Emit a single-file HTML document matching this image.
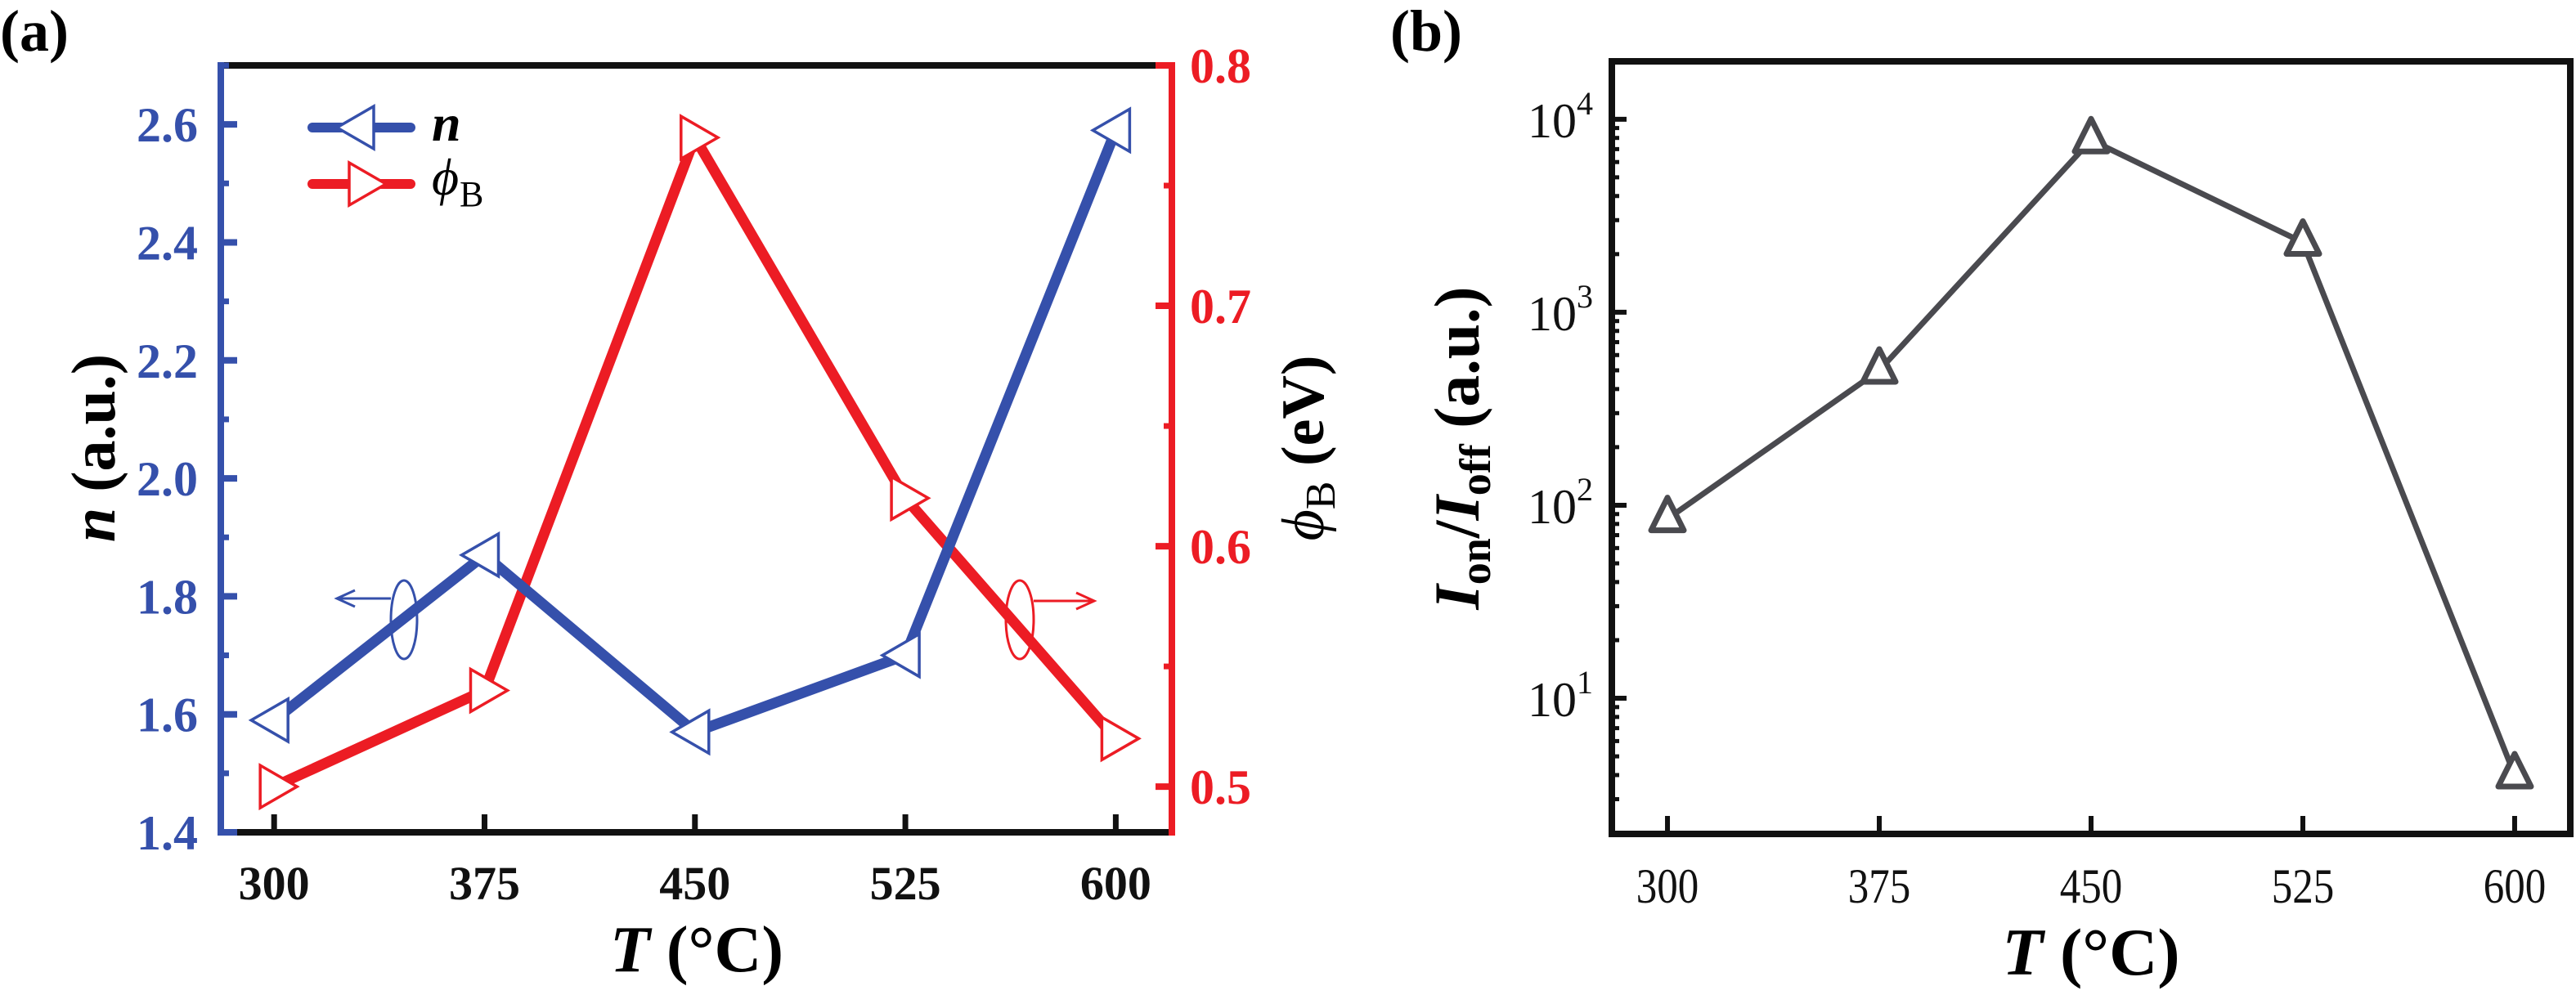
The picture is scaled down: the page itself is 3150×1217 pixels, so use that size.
<!DOCTYPE html>
<html><head><meta charset="utf-8"><style>
html,body{margin:0;padding:0;background:#fff;}
svg, svg text, svg tspan{font-family:"Liberation Serif","DejaVu Serif",serif !important;}
</style></head><body>
<svg id="fig" width="3150" height="1212" viewBox="0 0 3150 1212" xmlns="http://www.w3.org/2000/svg" font-family="'Liberation Serif', 'DejaVu Serif', serif">
<g id="pa"></g>
<g id="pb"></g>
</svg>
<script>
// ---- data ----
const temps = [300, 375, 450, 525, 600];
const nValues = [1.59, 1.87, 1.57, 1.70, 2.59];
const phiValues = [0.50, 0.54, 0.77, 0.62, 0.52];
const ratioValues = [85, 500, 7800, 2300, 4];
const xTickLabels = ["300", "375", "450", "525", "600"];
const nTickLabels = ["1.4", "1.6", "1.8", "2.0", "2.2", "2.4", "2.6"];
const phiTickLabels = ["0.5", "0.6", "0.7", "0.8"];
const logTickExps = [1, 2, 3, 4];

const NS = "http://www.w3.org/2000/svg";
const FF = "'Liberation Serif', 'DejaVu Serif', serif";
function mk(parent, tag, attrs, text) {
  const e = document.createElementNS(NS, tag);
  for (const k in attrs) e.setAttribute(k, attrs[k]);
  if (tag === "text") e.setAttribute("font-family", FF);
  if (text !== undefined) e.textContent = text;
  parent.appendChild(e);
  return e;
}
const BLUE = "#3550ab", RED = "#ec1c24", GRAY = "#4a4a4f";

// ---- panel a ----
const pa = document.getElementById("pa");
const A = {l: 270, r: 1433, t: 80, b: 1018};
const xa = v => A.l + (v - 281) / (620 - 281) * (A.r - A.l);
const ya = v => A.b - (v - 1.4) / (2.7 - 1.4) * (A.b - A.t);
const ypa = v => A.b - (v - 0.481) / (0.8 - 0.481) * (A.b - A.t);

let e;
e = mk(pa, "text", {x: 0, y: 62, "font-size": 72, "font-weight": "bold"}, "(a)");
 

e = mk(pa, "line", {x1: A.l, y1: A.t, x2: A.r, y2: A.t, stroke: "#111", "stroke-width": 8});
 
e = mk(pa, "line", {x1: A.l, y1: A.b, x2: A.r, y2: A.b, stroke: "#111", "stroke-width": 8});
 
e = mk(pa, "line", {x1: A.l, y1: A.t - 4, x2: A.l, y2: A.b + 4, stroke: BLUE, "stroke-width": 8});
 
e = mk(pa, "line", {x1: A.r, y1: A.t - 4, x2: A.r, y2: A.b + 4, stroke: RED, "stroke-width": 8});
 

temps.forEach((t, i) => {
  const x = xa(t);
  e = mk(pa, "line", {x1: x, y1: A.b, x2: x, y2: A.b - 22, stroke: "#111", "stroke-width": 7});
   
  e = mk(pa, "text", {x: x, y: A.b + 82, "font-size": 58, "font-weight": "bold", "text-anchor": "middle", fill: "#111"}, xTickLabels[i]);
   
});
nTickLabels.forEach(s => {
  const v = parseFloat(s), y = ya(v);
  e = mk(pa, "line", {x1: A.l, y1: y, x2: A.l + 20, y2: y, stroke: BLUE, "stroke-width": 8});
   
  e = mk(pa, "line", {x1: A.l, y1: ya(v + 0.1), x2: A.l + 10, y2: ya(v + 0.1), stroke: BLUE, "stroke-width": 7});
   
  e = mk(pa, "text", {x: A.l - 28, y: y + 21, "font-size": 60, "font-weight": "bold", "text-anchor": "end", fill: BLUE}, s);
   
});
phiTickLabels.forEach(s => {
  const v = parseFloat(s), y = ypa(v);
  e = mk(pa, "line", {x1: A.r, y1: y, x2: A.r - 20, y2: y, stroke: RED, "stroke-width": 8});
   
  if (v < 0.8) {
    e = mk(pa, "line", {x1: A.r, y1: ypa(v + 0.05), x2: A.r - 10, y2: ypa(v + 0.05), stroke: RED, "stroke-width": 7});
     
  }
  e = mk(pa, "text", {x: A.r + 22, y: y + 21, "font-size": 60, "font-weight": "bold", fill: RED}, s);
   
});

function triL(g, x, y, col, name) {
  const p = `${x - 28},${y} ${x + 17},${y - 26} ${x + 17},${y + 26}`;
  const el = mk(g, "polygon", {points: p, fill: "#fff", stroke: col, "stroke-width": 3.5});
   
}
function triR(g, x, y, col, name) {
  const p = `${x + 28},${y} ${x - 17},${y - 26} ${x - 17},${y + 26}`;
  const el = mk(g, "polygon", {points: p, fill: "#fff", stroke: col, "stroke-width": 3.5});
   
}
e = mk(pa, "polyline", {points: temps.map((t, i) => xa(t) + "," + ypa(phiValues[i])).join(" "), fill: "none", stroke: RED, "stroke-width": 13, "stroke-linejoin": "round"});
 
e = mk(pa, "polyline", {points: temps.map((t, i) => xa(t) + "," + ya(nValues[i])).join(" "), fill: "none", stroke: BLUE, "stroke-width": 13, "stroke-linejoin": "round"});
 
temps.forEach((t, i) => triR(pa, xa(t), ypa(phiValues[i]), RED, 'phi-marker'));
temps.forEach((t, i) => triL(pa, xa(t), ya(nValues[i]), BLUE, 'n-marker'));

// legend
e = mk(pa, "line", {x1: 382, y1: 156, x2: 502, y2: 156, stroke: BLUE, "stroke-width": 12, "stroke-linecap": "round"});
 
triL(pa, 440, 156, BLUE, 'legend-n-marker');
e = mk(pa, "text", {x: 528, y: 172, "font-size": 64, "font-weight": "bold", "font-style": "italic"}, "n");
 
e = mk(pa, "line", {x1: 382, y1: 225, x2: 502, y2: 225, stroke: RED, "stroke-width": 12, "stroke-linecap": "round"});
 
triR(pa, 444, 225, RED, 'legend-phi-marker');
e = mk(pa, "text", {x: 528, y: 238, "font-size": 64, "font-style": "italic"}, "ϕ");
 
e = mk(pa, "text", {x: 562, y: 252, "font-size": 44}, "B");
 

// annotations
e = mk(pa, "ellipse", {cx: 494, cy: 758, rx: 16, ry: 48, fill: "none", stroke: BLUE, "stroke-width": 3});
 
e = mk(pa, "path", {d: "M478,732 L412,732 M434,722 L412,732 L434,742", fill: "none", stroke: BLUE, "stroke-width": 3});
 
e = mk(pa, "ellipse", {cx: 1247, cy: 758, rx: 17, ry: 48, fill: "none", stroke: RED, "stroke-width": 3});
 
e = mk(pa, "path", {d: "M1264,735 L1338,735 M1316,725 L1338,735 L1316,745", fill: "none", stroke: RED, "stroke-width": 3});
 

// axis titles
e = mk(pa, "text", {x: 0, y: 0, "font-size": 76, "font-weight": "bold", "text-anchor": "middle", transform: "translate(140,548) rotate(-90)"});
e.innerHTML = '<tspan font-style="italic">n</tspan> (a.u.)';
 
e = mk(pa, "text", {x: 0, y: 0, "font-size": 74, "font-weight": "bold", "text-anchor": "middle", transform: "translate(1618,548) rotate(-90)"});
e.innerHTML = '<tspan font-style="italic" font-weight="normal">ϕ</tspan><tspan font-size="52" font-weight="normal" dy="14">B</tspan><tspan dy="-14"> (eV)</tspan>';
 
e = mk(pa, "text", {x: 852, y: 1188, "font-size": 80, "font-weight": "bold", "text-anchor": "middle"});
e.innerHTML = '<tspan font-style="italic">T</tspan> (°C)';
 

// ---- panel b ----
const pb = document.getElementById("pb");
const B = {l: 1971, r: 3143, t: 75, b: 1020};
const xb = v => B.l + (v - 280.3) / (619.7 - 280.3) * (B.r - B.l);
const lmin = 0.297, lmax = 4.30;
const yb = v => B.b - (Math.log10(v) - lmin) / (lmax - lmin) * (B.b - B.t);

e = mk(pb, "text", {x: 1700, y: 62, "font-size": 72, "font-weight": "bold"}, "(b)");
 
e = mk(pb, "rect", {x: B.l, y: B.t, width: B.r - B.l, height: B.b - B.t, fill: "none", stroke: "#111", "stroke-width": 8});
 
temps.forEach((t, i) => {
  const x = xb(t);
  e = mk(pb, "line", {x1: x, y1: B.b, x2: x, y2: B.b - 22, stroke: "#111", "stroke-width": 6});
   
  e = mk(pb, "text", {x: x, y: B.b + 84, "font-size": 60, "text-anchor": "middle", fill: "#111", transform: `translate(${x},0) scale(0.85,1) translate(${-x},0)`}, xTickLabels[i]);
   
});
for (let d = 0; d <= 4; d++) {
  for (let m = 1; m <= 9; m++) {
    const v = m * Math.pow(10, d);
    const lv = Math.log10(v);
    if (lv < lmin || lv > lmax) continue;
    const y = yb(v);
    e = mk(pb, "line", {x1: B.l, y1: y, x2: B.l + (m === 1 ? 18 : 9), y2: y, stroke: "#111", "stroke-width": m === 1 ? 6 : 5});
     
  }
}
logTickExps.forEach(p => {
  const y = yb(Math.pow(10, p));
  e = mk(pb, "text", {x: 1948, y: y + 22, "font-size": 60, "text-anchor": "end", fill: "#111"});
  e.innerHTML = '10<tspan font-size="40" dy="-28">' + p + '</tspan>';
   
});
e = mk(pb, "polyline", {points: temps.map((t, i) => xb(t) + "," + yb(ratioValues[i])).join(" "), fill: "none", stroke: GRAY, "stroke-width": 7, "stroke-linejoin": "round"});
 
temps.forEach((t, i) => {
  const x = xb(t), y = yb(ratioValues[i]);
  e = mk(pb, "polygon", {points: `${x},${y - 26} ${x - 20},${y + 14} ${x + 20},${y + 14}`, fill: "#fff", stroke: GRAY, "stroke-width": 7, "stroke-linejoin": "round"});
   
});
e = mk(pb, "text", {x: 0, y: 0, "font-size": 78, "font-weight": "bold", "text-anchor": "middle", transform: "translate(1808,548) rotate(-90)"});
e.innerHTML = '<tspan font-style="italic">I</tspan><tspan font-size="54" dy="14">on</tspan><tspan dy="-14">/</tspan><tspan font-style="italic">I</tspan><tspan font-size="54" dy="14">off</tspan><tspan dy="-14"> (a.u.)</tspan>';
 
e = mk(pb, "text", {x: 2557, y: 1192, "font-size": 82, "font-weight": "bold", "text-anchor": "middle"});
e.innerHTML = '<tspan font-style="italic">T</tspan> (°C)';
 
</script>
</body></html>
